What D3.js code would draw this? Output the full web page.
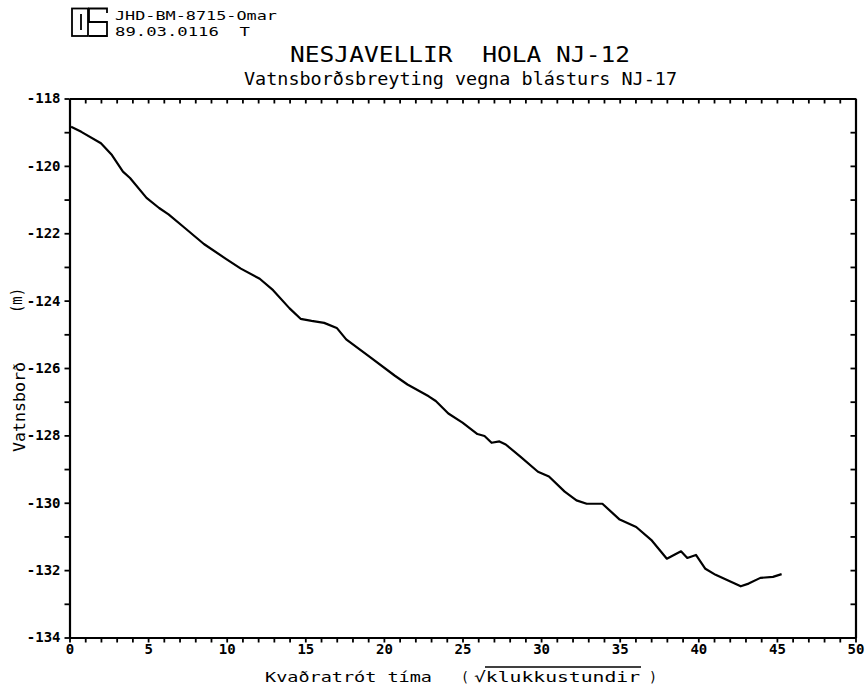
<!DOCTYPE html>
<html>
<head>
<meta charset="utf-8">
<script src="https://cdn.jsdelivr.net/npm/d3@7/dist/d3.min.js"></script>
<style>
  html, body { margin: 0; padding: 0; background: #fff; }
  svg { display: block; }
  text { font-family: "DejaVu Sans Mono", monospace; fill: #000; white-space: pre; }
</style>
</head>
<body>
<svg id="chart" width="867" height="692"></svg>
<script>
// Square root of elapsed time (sqrt of hours) and water level (m)
const sqrtHours = [0.1, 0.75, 2.0, 2.7, 3.4, 3.85, 4.9, 5.7, 6.3, 7.3, 8.55, 9.95, 10.9, 12.1, 12.95,
  14.0, 14.7, 15.4, 16.2, 17.0, 17.6, 19.1, 20.7, 21.5, 22.85, 23.3, 24.1, 25.0, 25.95, 26.4,
  26.85, 27.35, 27.75, 28.7, 29.8, 30.5, 31.5, 32.25, 32.9, 33.9, 35.0, 36.05, 37.0, 38.0,
  38.9, 39.3, 39.85, 40.45, 41.1, 42.7, 43.2, 43.95, 44.75, 45.3];
const waterLevel = [-118.84, -118.99, -119.33, -119.68, -120.17, -120.36, -120.95, -121.25, -121.44,
  -121.83, -122.32, -122.76, -123.05, -123.35, -123.69, -124.23, -124.54, -124.60, -124.66,
  -124.81, -125.15, -125.67, -126.23, -126.49, -126.84, -126.98, -127.35, -127.62, -127.96,
  -128.02, -128.22, -128.18, -128.27, -128.64, -129.08, -129.22, -129.67, -129.93, -130.03,
  -130.03, -130.5, -130.72, -131.1, -131.66, -131.44, -131.64, -131.55, -131.96, -132.14,
  -132.48, -132.4, -132.23, -132.2, -132.12];

const xTicks = d3.range(0, 51, 1);        // minor ticks every unit, labels every 5
const yTicks = d3.range(-134, -117, 1);   // minor ticks every metre, labels every 2

const svg = d3.select("#chart");
const L = 69.5, R = 855.5, T = 98.5, B = 637.5;

const x = d3.scaleLinear().domain([0, 50]).range([L, R]);
const y = d3.scaleLinear().domain([-134, -118]).range([B, T]);

function styleAxis(g) {
  g.select(".domain").attr("stroke", "#000").attr("stroke-width", 2.2);
  g.selectAll(".tick line").attr("stroke", "#000").attr("stroke-width", 1.8);
  g.selectAll(".tick text")
    .style("font-family", '"DejaVu Sans Mono", monospace')
    .style("font-size", "14px")
    .style("font-weight", "bold")
    .attr("fill", "#000");
}

// bottom axis: ticks hang below the frame
svg.append("g")
  .attr("transform", `translate(0,${B})`)
  .call(d3.axisBottom(x).tickValues(xTicks).tickSizeInner(5).tickSizeOuter(0).tickPadding(2)
    .tickFormat(d => d % 5 === 0 ? String(d) : ""))
  .call(styleAxis);

// top axis: ticks point into the plot
svg.append("g")
  .attr("transform", `translate(0,${T})`)
  .call(d3.axisTop(x).tickValues(xTicks).tickSizeInner(-5).tickSizeOuter(0).tickFormat(""))
  .call(styleAxis);

// left axis: ticks point outward
svg.append("g")
  .attr("transform", `translate(${L},0)`)
  .call(d3.axisLeft(y).tickValues(yTicks).tickSizeInner(5).tickSizeOuter(0).tickPadding(4)
    .tickFormat(d => d % 2 === 0 ? String(d) : ""))
  .call(styleAxis);

// right axis: ticks point into the plot
svg.append("g")
  .attr("transform", `translate(${R},0)`)
  .call(d3.axisRight(y).tickValues(yTicks).tickSizeInner(-5).tickSizeOuter(0).tickFormat(""))
  .call(styleAxis);

// water level curve
const pts = sqrtHours.map((h, i) => [h, waterLevel[i]]);
svg.append("path")
  .datum(pts)
  .attr("fill", "none")
  .attr("stroke", "#000")
  .attr("stroke-width", 2.2)
  .attr("stroke-linejoin", "round")
  .attr("d", d3.line().x(d => x(d[0])).y(d => y(d[1])));

// text helper: stretched monospace lettering
function label(xp, yp, str, size, len, rot) {
  const t = svg.append("text")
    .attr("xml:space", "preserve")
    .style("font-size", size + "px")
    .attr("lengthAdjust", "spacingAndGlyphs")
    .attr("textLength", len)
    .text(str);
  if (rot) t.attr("transform", `translate(${xp},${yp}) rotate(-90)`);
  else t.attr("x", xp).attr("y", yp);
  return t;
}

// titles
label(290, 62, "NESJAVELLIR  HOLA NJ-12", 20.5, 340);
label(244, 85, "Vatnsborðsbreyting vegna blásturs NJ-17", 18, 433);

// header block with logo
const logo = svg.append("g").attr("fill", "none").attr("stroke", "#000").attr("stroke-width", 1.8);
logo.append("rect").attr("x", 72).attr("y", 8.5).attr("width", 16).attr("height", 27.5);
logo.append("line").attr("x1", 81).attr("x2", 81).attr("y1", 14).attr("y2", 30);
logo.append("path").attr("d", "M107,13 L107,8.5 L89,8.5 L89,22 L107,22 L107,36 L89,36");
label(115, 20, "JHD-BM-8715-Omar", 12.5, 162);
label(115, 36, "89.03.0116  T", 12.5, 135);

// x axis title
label(265, 682, "Kvaðratrót tíma", 14.5, 167);
label(461, 682, "(", 14.5, 8);
label(474, 682, "√klukkustundir", 14.5, 166);
svg.append("line").attr("x1", 485).attr("x2", 641).attr("y1", 667).attr("y2", 667)
  .attr("stroke", "#000").attr("stroke-width", 1.5);
label(649, 682, ")", 14.5, 8);

// y axis title
label(25, 452, "Vatnsborð", 16, 90, true);
label(22, 313, "(m)", 15, 25, true);
</script>
</body>
</html>
